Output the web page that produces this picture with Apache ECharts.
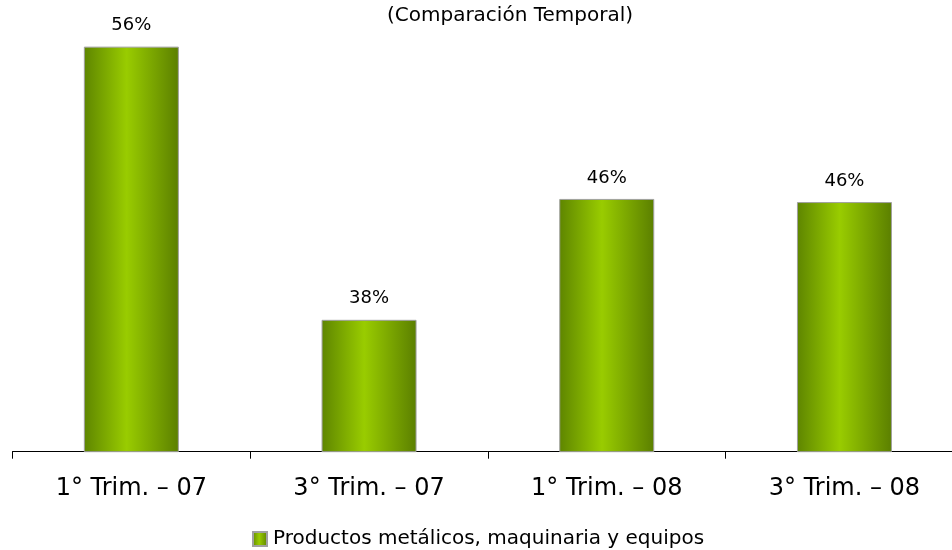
<!DOCTYPE html>
<html>
<head>
<meta charset="utf-8">
<script src="https://cdn.jsdelivr.net/npm/echarts@6/dist/echarts.min.js"></script>
<style>html,body{margin:0;padding:0;background:#fff;overflow:hidden;width:952px;height:550px}#c{width:964px;height:550px}</style>
</head>
<body>
<div id="c"></div>
<script>
const title = '(Comparación Temporal)';
const seriesName = 'Productos metálicos, maquinaria y equipos';
const categories = ['1° Trim. – 07', '3° Trim. – 07', '1° Trim. – 08', '3° Trim. – 08'];
const values = [55.8, 38.4, 46.1, 45.9];

const FONT = 'DejaVu Sans';
const grad = new echarts.graphic.LinearGradient(0, 0, 1, 0, [
  { offset: 0, color: '#5e8500' },
  { offset: 0.45, color: '#99cc00' },
  { offset: 1, color: '#5b7f00' }
]);
const chart = echarts.init(document.getElementById('c'));
chart.setOption({
  animation: false,
  backgroundColor: '#fff',
  title: {
    text: title, left: 510, top: 6, textAlign: 'center', padding: 0,
    textStyle: { fontFamily: FONT, fontSize: 20, fontWeight: 'normal', color: '#000' }
  },
  legend: {
    data: [{ name: seriesName, icon: 'rect' }], left: 252, top: 529, padding: 0,
    itemWidth: 14, itemHeight: 14, itemGap: 6,
    textStyle: { fontFamily: FONT, fontSize: 20, color: '#000', padding: [0, 0, 0, 1] }
  },
  grid: { left: 12.5, width: 950.8, top: 12.1, bottom: 98.3, containLabel: false },
  xAxis: {
    type: 'category', data: categories,
    axisLine: { lineStyle: { color: '#000', width: 1 } },
    axisTick: { show: true, length: 7, lineStyle: { color: '#000' } },
    axisLabel: { fontFamily: FONT, fontSize: 24, color: '#000', margin: 25 }
  },
  yAxis: { type: 'value', min: 30, max: 58, show: false, splitLine: { show: false } },
  series: [{
    name: seriesName, type: 'bar', data: values, barWidth: 95,
    itemStyle: { color: grad, borderColor: '#a0a0a0', borderWidth: 1 },
    label: {
      show: true, position: 'top', distance: 12,
      fontFamily: FONT, fontSize: 18, color: '#000',
      formatter: p => Math.round(p.value) + '%'
    }
  }]
});
</script>
</body>
</html>
